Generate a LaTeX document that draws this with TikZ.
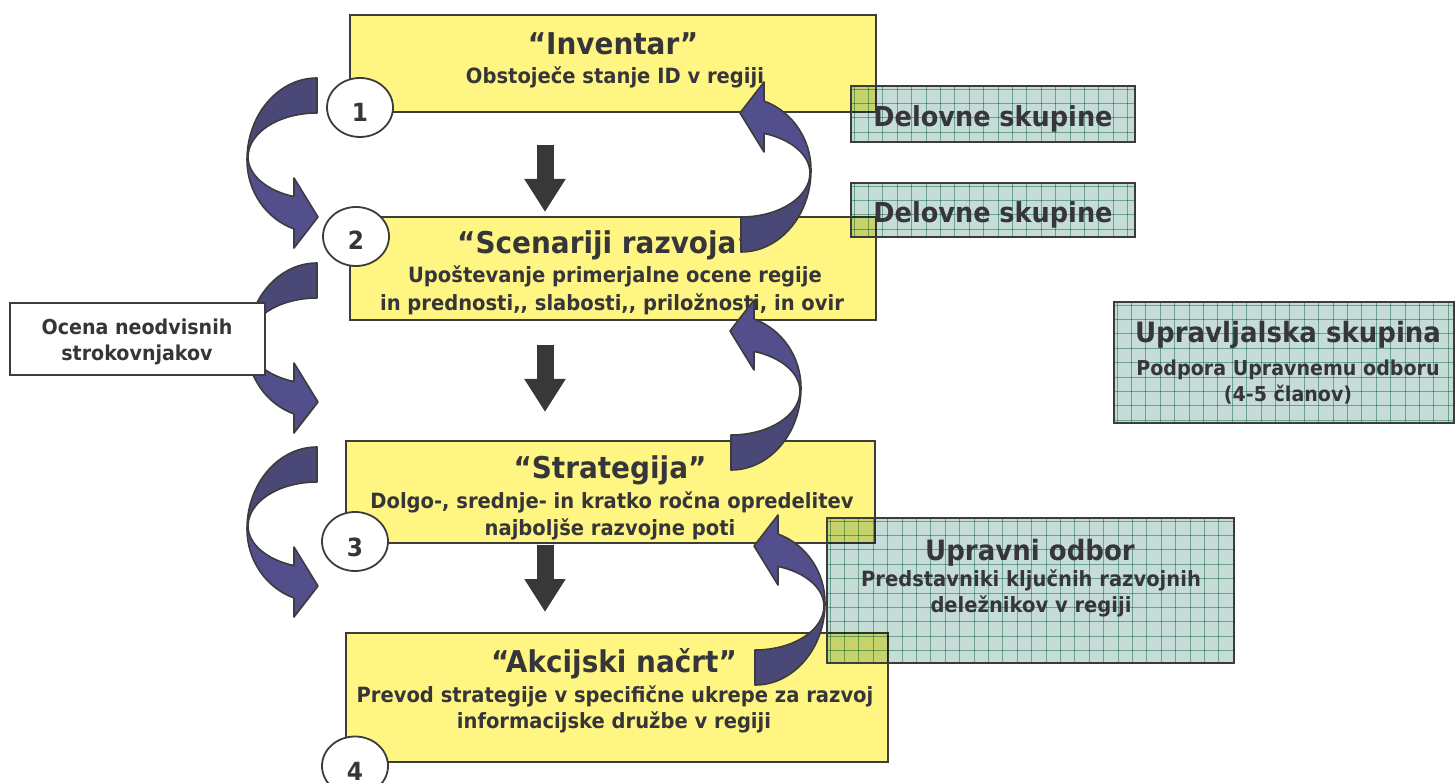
\documentclass[tikz,border=0pt]{standalone}
\usepackage{fontspec}
\setmainfont{DejaVu Sans}[FakeStretch=0.93]
\usetikzlibrary{fit,arrows.meta,shapes.geometric}
\definecolor{yel}{HTML}{FFF582}
\definecolor{tcol}{HTML}{36363A}
\definecolor{bcol}{HTML}{3C3C3C}
\definecolor{gfill}{HTML}{C6DCD7}
\definecolor{glinec}{HTML}{8BBBAC}
\definecolor{adark}{HTML}{4A4876}
\definecolor{alight}{HTML}{524F8C}
\definecolor{downc}{HTML}{383838}
\tikzset{
  ybox/.style={draw=bcol, line width=2pt, fill=yel, inner sep=0pt},
  wbox/.style={draw=bcol, line width=2pt, fill=white, inner sep=0pt},
  circ/.style={ellipse, draw=bcol, line width=1.8pt, fill=white, inner sep=0pt, minimum width=66pt, minimum height=59pt},
  gborder/.style={draw=bcol, line width=2.4pt},
  gline/.style={draw=glinec, line width=0.8pt},
  txt/.style={text=tcol, inner sep=0pt, anchor=base, font=\bfseries\fontsize{21}{24}\selectfont},
  ttl/.style={txt, font=\bfseries\fontsize{30}{34}\selectfont},
  gttl/.style={txt, font=\bfseries\fontsize{27.5}{32}\selectfont},
  num/.style={txt, font=\bfseries\fontsize{25}{28}\selectfont},
  downarr/.style={draw=downc, line width=17pt, -{Triangle[width=39pt,length=33pt]}},
  arrline/.style={draw=bcol, line width=1.6pt, line join=round},
}
\newcommand{\curvarr}{%
  \fill[alight] (317,78) arc[start angle=270,end angle=180,x radius=70,y radius=82]
     arc[start angle=180,end angle=109.2,x radius=70,y radius=73] -- (294,248) -- (318,217) -- (294,178) -- (294,196.6)
     arc[start angle=109.5,end angle=180,x radius=69,y radius=42]
     arc[start angle=180,end angle=270,x radius=69,y radius=44] -- cycle;
  \fill[adark] (317,78) arc[start angle=270,end angle=180,x radius=70,y radius=82] -- (248,157)
     arc[start angle=180,end angle=270,x radius=69,y radius=44] -- cycle;
  \draw[arrline] (317,78) arc[start angle=270,end angle=180,x radius=70,y radius=82]
     arc[start angle=180,end angle=109.2,x radius=70,y radius=73] -- (294,248) -- (318,217) -- (294,178) -- (294,196.6)
     arc[start angle=109.5,end angle=180,x radius=69,y radius=42]
     arc[start angle=180,end angle=270,x radius=69,y radius=44] -- cycle;
}
\newcommand{\gridbox}[5]{%
  \node[fit={(#2,#3) (#4,#5)}, inner sep=0pt, outer sep=0pt] (#1) {};
  \begin{scope}[blend mode=multiply]
    \fill[gfill] (#2,#3) rectangle (#4,#5);
    \begin{scope}
      \clip (#2,#3) rectangle (#4,#5);
      \foreach \k in {0,...,30} {
        \draw[gline] ({#2+3+\k*14.4},#3) -- ({#2+3+\k*14.4},#5);
        \draw[gline] (#2,{#3+3+\k*14.4}) -- (#4,{#3+3+\k*14.4});
      }
    \end{scope}
  \end{scope}
  \draw[gborder] (#2,#3) rectangle (#4,#5);
}
\begin{document}
\begin{tikzpicture}[x=1pt,y=-1pt]
\useasboundingbox (0,0) rectangle (1456,783);
\fill[white] (0,0) rectangle (1456,783);

% yellow boxes
\node[ybox, fit={(350,15) (876,112)}] (b1) {};
\node[ybox, fit={(350,217) (876,320)}] (b2) {};
\node[ybox, fit={(346,441) (875,543)}] (b3) {};
\node[ybox, fit={(346,633) (888,762)}] (b4) {};

\node[ttl] (t1) at (613,55) {“Inventar”};
\node[txt] (s1) at (615,84) {Obstoječe stanje ID v regiji};
\node[ttl] (t2) at (606,254) {“Scenariji razvoja”};
\node[txt] (s2a) at (615,283) {Upoštevanje primerjalne ocene regije};
\node[txt] (s2b) at (612,311) {in prednosti,\kern0pt, slabosti,\kern0pt, priložnosti, in ovir};
\node[ttl] (t3) at (610,478) {“Strategija”};
\node[txt] (s3a) at (612,508) {Dolgo-, srednje- in kratko ročna opredelitev};
\node[txt] (s3b) at (610,535) {najboljše razvojne poti};
\node[ttl] (t4) at (614,672) {“Akcijski načrt”};
\node[txt] (s4a) at (615,702) {Prevod strategije v specifične ukrepe za razvoj};
\node[txt] (s4b) at (614,728) {informacijske družbe v regiji};

% circles
\node[circ] (c1) at (360,107.5) {};
\node[num] (n1) at (360,122) {1};
\node[circ] (c2) at (356,236.5) {};
\node[num] (n2) at (356,250) {2};
\node[circ] (c3) at (355,541.5) {};
\node[num] (n3) at (355,556) {3};
\node[circ] (c4) at (355,766) {};
\node[num] (n4) at (355,780) {4};

% down arrows
\coordinate (d1s) at (545,145); \coordinate (d1e) at (545,212);
\coordinate (d2s) at (545,345); \coordinate (d2e) at (545,412);
\coordinate (d3s) at (545,545); \coordinate (d3e) at (545,612);
\draw[downarr] (d1s) -- (d1e);
\draw[downarr] (d2s) -- (d2e);
\draw[downarr] (d3s) -- (d3e);

% curved arrows
\curvarr
\begin{scope}[shift={(0,185)}]\curvarr\end{scope}
\begin{scope}[shift={(0,369)}]\curvarr\end{scope}
\begin{scope}[shift={(1058,330)}, rotate=180]\curvarr\end{scope}
\begin{scope}[shift={(1048,548)}, rotate=180]\curvarr\end{scope}
\begin{scope}[shift={(1072,763)}, rotate=180]\curvarr\end{scope}

% expert box
\node[wbox, fit={(10,303) (265,375)}] (oc) {};
\node[txt, font=\bfseries\fontsize{20.5}{24}\selectfont] (oc1) at (137,335) {Ocena neodvisnih};
\node[txt, font=\bfseries\fontsize{20.5}{24}\selectfont] (oc2) at (137,360) {strokovnjakov};

% green boxes
\gridbox{g1}{851}{86}{1135}{142}
\node[gttl] (g1t) at (993,127) {Delovne skupine};
\gridbox{g2}{851}{183}{1135}{237}
\node[gttl] (g2t) at (993,223) {Delovne skupine};
\gridbox{g3}{1114}{302}{1454}{423}
\node[gttl, font=\bfseries\fontsize{28}{32}\selectfont] (g3t) at (1288,343) {Upravljalska skupina};
\node[txt, font=\bfseries\fontsize{20.5}{24}\selectfont] (g3a) at (1288,376) {Podpora Upravnemu odboru};
\node[txt, font=\bfseries\fontsize{20.5}{24}\selectfont] (g3b) at (1288,402) {(4-5 članov)};
\gridbox{g4}{827}{518}{1234}{663}
\node[gttl, font=\bfseries\fontsize{28}{32}\selectfont] (g4t) at (1030,560) {Upravni odbor};
\node[txt] (g4a) at (1031,586) {Predstavniki ključnih razvojnih};
\node[txt] (g4b) at (1031,612) {deležnikov v regiji};
\end{tikzpicture}
\end{document}
